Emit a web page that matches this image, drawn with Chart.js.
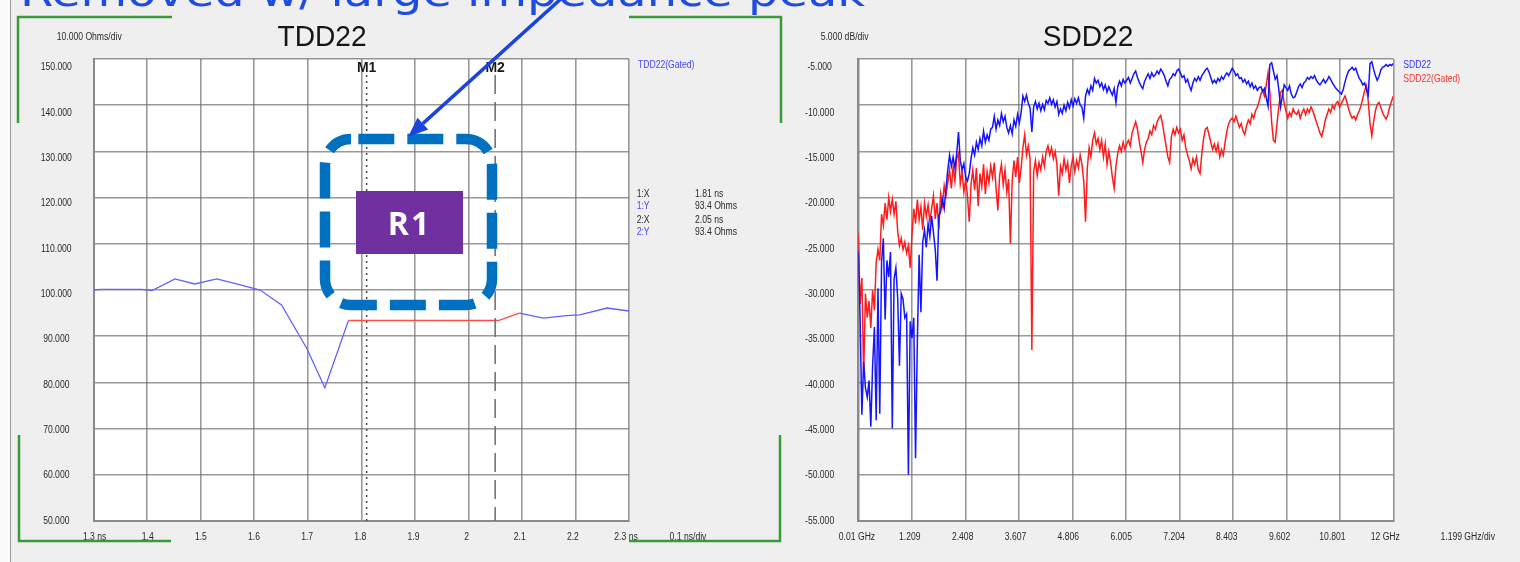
<!DOCTYPE html>
<html>
<head>
<meta charset="utf-8">
<script src="https://cdn.jsdelivr.net/npm/chart.js@4.4.1/dist/chart.umd.min.js"></script>
<style>
  html, body { margin: 0; padding: 0; }
  body { width: 1520px; height: 562px; overflow: hidden; background: #efefef; position: relative; }
  #edge { position: absolute; left: 0; top: 0; width: 10px; height: 562px; background: #fbfbfb; border-right: 1.5px solid #9a9a9a; }
  canvas { position: absolute; top: 0; }
  #tdd { left: 0; }
  #sdd { left: 780px; }
  #notes { position: absolute; left: 0; top: 0; }
</style>
</head>
<body>
<div id="edge"></div>
<canvas id="tdd" width="780" height="562"></canvas>
<canvas id="sdd" width="740" height="562"></canvas>
<svg id="notes" width="1520" height="562" xmlns="http://www.w3.org/2000/svg">
  <!-- headline (runs off the top edge) -->
  <text x="20" y="6" font-family="DejaVu Sans, Verdana, sans-serif" font-size="40" fill="#1f4be0"
        textLength="845" lengthAdjust="spacingAndGlyphs">Removed w/ large impedance peak</text>
  <!-- green frame corners around the TDR panel -->
  <g fill="none" stroke="#3a9a3a" stroke-width="2.5">
    <path d="M18 123 V17 H172"/>
    <path d="M629 17 H781 V123"/>
    <path d="M19 435 V541 H171"/>
    <path d="M629 541 H780 V435"/>
  </g>
  <!-- region callout -->
  <rect x="325" y="139" width="167" height="166" rx="26" fill="none" stroke="#0070c0"
        stroke-width="10.5" stroke-dasharray="36 13" stroke-dashoffset="41.7"/>
  <rect x="356" y="191" width="107" height="63" fill="#7030a0"/>
  <text x="409.5" y="235" text-anchor="middle" font-family="Open Sans, sans-serif" font-weight="700"
        font-size="32" fill="#ffffff" letter-spacing="2">R1</text>
  <!-- pointer -->
  <line x1="563" y1="-3" x2="422.8" y2="123.6" stroke="#1c44dc" stroke-width="3.5"/>
  <polygon points="408,137 428.2,129.5 417.5,117.7" fill="#1c44dc"/>
</svg>

<script>
// ---------------- TDD22 (gated) impedance trace ----------------
const tddTime = [1.300, 1.312, 1.390, 1.409, 1.452, 1.489, 1.530, 1.567, 1.611, 1.651,
                 1.698, 1.732, 1.776, 2.056, 2.095, 2.140, 2.183, 2.208, 2.259, 2.300];
const tddOhms = [99.9, 100.15, 100.15, 99.85, 102.4, 101.3, 102.4, 101.3, 100.0, 96.75,
                 87.4, 78.85, 93.4, 93.4, 95.0, 93.9, 94.45, 94.6, 96.1, 95.45];
const tddGate = [1.776, 2.095];                 // gated stretch drawn in red
const tddTimeTicks = [1.3, 1.4, 1.5, 1.6, 1.7, 1.8, 1.9, 2.0, 2.1, 2.2, 2.3];
const tddTimeLabels = ['1.3 ns', '1.4', '1.5', '1.6', '1.7', '1.8', '1.9', '2', '2.1', '2.2', '2.3 ns'];
const tddOhmTicks = [50, 60, 70, 80, 90, 100, 110, 120, 130, 140, 150];
const markerNames = ['M1', 'M2'];
const markerTimes = [1.81, 2.05];
const markerOhms = [93.4, 93.4];

// ---------------- SDD22 return loss, raw and gated (dB) ----------------
const sddStart = 0.01, sddStop = 12;
const sdd22 = [
  -25.8, -33.0, -43.5, -37.8, -40.6, -41.6, -39.8, -44.8, -38.2, -34.0, -44.1, -29.8, -43.4, -27.0, -24.4, -33.2, -26.8, -28.6, -25.9, -45.0, -28.8, -27.6, -30.8, -38.2, -30.4,
  -31.0, -33.0, -32.6, -50.0, -33.4, -35.2, -33.0, -48.2, -35.6, -26.2, -32.4, -24.8, -23.5, -25.4, -22.8, -24.2, -22.0, -23.8, -25.6, -29.0, -22.0, -21.5, -20.2, -21.2, -19.0,
  -17.0, -15.4, -16.6, -15.6, -16.8, -15.2, -12.9, -16.0, -17.0, -16.3, -17.8, -18.2, -17.4, -15.8, -14.6, -15.4, -14.0, -14.8, -13.6, -14.4, -12.8, -14.0, -13.2, -13.8, -12.6,
  -12.4, -11.2, -12.6, -11.6, -12.2, -10.9, -11.8, -11.2, -12.4, -13.0, -12.2, -13.1, -11.6, -12.3, -11.0, -11.9, -10.8, -9.0, -9.6, -8.9, -9.8, -10.3, -12.9, -10.2, -9.6,
  -10.4, -9.8, -10.6, -9.9, -10.5, -9.5, -9.8, -9.2, -9.9, -9.4, -10.2, -9.6, -11.0, -10.4, -10.9, -10.0, -10.6, -9.7, -10.3, -9.4, -10.1, -9.3, -9.8, -9.2, -10.0,
  -10.2, -11.4, -9.0, -8.3, -8.8, -7.9, -8.4, -7.1, -7.6, -7.3, -8.0, -7.6, -8.3, -7.8, -8.6, -8.0, -8.5, -8.9, -8.2, -9.7, -8.0, -7.4, -7.9, -7.2, -7.6,
  -7.3, -7.0, -7.6, -7.1, -6.6, -6.3, -7.0, -7.5, -7.9, -8.2, -7.4, -7.0, -6.6, -7.1, -6.5, -6.9, -6.7, -6.3, -6.6, -6.1, -6.4, -6.8, -7.4, -7.9, -7.2,
  -7.0, -6.6, -6.8, -6.3, -6.1, -6.5, -7.0, -6.8, -7.5, -7.2, -7.9, -8.4, -7.6, -7.1, -7.4, -6.9, -7.3, -6.8, -6.5, -6.2, -6.0, -6.4, -7.0, -7.6, -7.3,
  -7.6, -7.1, -7.4, -6.9, -7.2, -6.8, -6.5, -6.8, -6.4, -6.0, -6.3, -6.8, -6.6, -7.1, -7.0, -7.5, -7.2, -7.7, -7.4, -8.0, -7.6, -8.2, -7.9, -8.4, -8.1,
  -8.0, -8.5, -8.2, -9.2, -10.1, -5.6, -5.4, -6.3, -7.2, -6.8, -8.3, -10.2, -9.0, -7.8, -8.1, -8.4, -7.9, -8.8, -9.2, -9.1, -8.6, -8.0, -7.7, -8.1, -7.6,
  -7.4, -7.0, -7.2, -6.9, -7.1, -6.8, -7.3, -7.6, -7.8, -7.5, -7.2, -7.6, -7.3, -6.9, -7.2, -7.6, -7.9, -8.2, -8.4, -8.6, -8.8, -8.3, -7.5, -6.8, -6.3,
  -6.1, -5.9, -6.2, -6.0, -6.6, -7.1, -7.4, -7.8, -7.6, -8.3, -8.9, -5.5, -5.3, -6.1, -6.8, -7.3, -6.9, -6.2, -5.9, -5.8, -5.6, -5.8, -5.6, -5.7, -5.5
];
const sdd22Gated = [
  -23.8, -31.5, -28.7, -39.2, -30.4, -33.0, -31.2, -34.1, -30.0, -32.2, -27.0, -25.6, -26.8, -21.8, -23.0, -20.6, -22.4, -20.0, -21.5, -20.2, -21.8, -20.4, -23.6, -25.2, -24.4,
  -25.6, -24.8, -26.0, -25.2, -27.6, -24.0, -21.2, -22.8, -20.2, -22.4, -21.0, -23.5, -20.6, -22.0, -20.8, -22.6, -21.2, -19.8, -22.3, -20.6, -23.4, -19.6, -20.8, -18.7, -19.8,
  -18.4, -17.0, -19.0, -16.6, -18.2, -15.8, -15.2, -18.5, -17.2, -19.4, -18.0, -19.8, -22.6, -18.6, -17.0, -19.2, -16.8, -20.9, -17.4, -18.8, -16.4, -19.6, -17.2, -18.4, -16.6,
  -17.8, -16.2, -19.0, -21.4, -17.6, -16.4, -18.6, -17.0, -19.4, -18.0, -25.0, -18.2, -16.0, -17.8, -15.6, -18.4, -16.8, -14.6, -13.2, -15.4, -14.4, -15.8, -36.5, -17.2, -16.0,
  -17.6, -16.2, -17.0, -15.6, -16.6, -15.0, -14.4, -15.4, -14.6, -15.8, -15.0, -16.4, -19.8, -16.6, -17.4, -15.8, -17.0, -16.2, -18.4, -16.6, -15.6, -17.2, -16.0, -16.8, -15.4,
  -16.4, -18.2, -22.6, -16.8, -14.6, -15.6, -13.8, -13.0, -14.2, -13.6, -14.8, -13.8, -15.6, -14.2, -16.4, -15.0, -16.2, -17.8, -19.0, -16.6, -15.2, -14.4, -15.0, -14.0, -14.8,
  -14.2, -13.8, -14.4, -13.0, -12.4, -11.8, -12.6, -13.9, -15.0, -16.2, -14.8, -14.0, -13.6, -12.8, -13.2, -12.2, -12.6, -11.8, -11.4, -11.1, -12.0, -13.2, -14.4, -15.6, -16.2,
  -13.4, -12.6, -13.2, -12.4, -13.0, -12.6, -13.8, -13.2, -14.6, -15.4, -16.0, -16.9, -15.8, -16.4, -15.6, -17.0, -17.4, -15.2, -13.6, -12.6, -12.4, -13.2, -14.0, -14.8, -14.2,
  -15.0, -14.2, -15.6, -14.8, -15.4, -14.0, -12.8, -12.0, -11.6, -11.4, -11.8, -11.2, -11.8, -12.4, -12.0, -12.8, -13.2, -12.2, -11.6, -12.0, -11.0, -11.4, -10.6, -10.2, -9.6,
  -8.8, -8.4, -9.0, -7.8, -6.5, -8.6, -11.8, -13.8, -14.0, -12.0, -10.2, -8.6, -8.4, -9.8, -10.6, -11.4, -10.8, -11.2, -10.4, -10.8, -11.0, -10.6, -11.4, -10.8, -10.4,
  -11.0, -10.4, -10.8, -10.2, -10.6, -11.2, -11.8, -12.4, -13.0, -13.4, -12.6, -11.6, -11.0, -10.4, -10.8, -10.0, -10.4, -9.8, -9.6, -10.2, -9.8, -9.4, -9.0, -9.6, -10.4,
  -11.0, -11.4, -11.2, -11.6, -11.0, -10.6, -10.0, -9.2, -8.4, -7.9, -9.6, -12.0, -13.3, -11.8, -10.6, -9.9, -9.7, -10.2, -10.8, -11.2, -11.5, -11.0, -10.2, -9.6, -9.0
];
const sddFreqTicks = [0.01, 1.209, 2.408, 3.607, 4.806, 6.005, 7.204, 8.403, 9.602, 10.801, 12];
const sddFreqLabels = ['0.01 GHz', '1.209', '2.408', '3.607', '4.806', '6.005', '7.204', '8.403', '9.602', '10.801', '12 GHz'];
const sddDbTicks = [-55, -50, -45, -40, -35, -30, -25, -20, -15, -10, -5];

// sweep points are evenly spaced between start and stop
const sddFreq = sdd22.map((_, i) => sddStart + i * (sddStop - sddStart) / (sdd22.length - 1));

// ---------------- drawing helpers ----------------
const FONT = '"Liberation Sans", Arial, sans-serif';
function label(ctx, str, x, y, opt = {}) {
  ctx.save();
  ctx.font = (opt.bold ? 'bold ' : '') + (opt.size || 10) + 'px ' + FONT;
  ctx.fillStyle = opt.color || '#2a2a2a';
  ctx.textBaseline = 'middle';
  ctx.textAlign = opt.align || 'left';
  ctx.translate(x, y);
  ctx.scale(opt.squeeze == null ? 0.86 : opt.squeeze, 1);
  ctx.fillText(str, 0, 0);
  ctx.restore();
}

// instrument-style panel: white plot field, tick captions, header and annotations
const panel = {
  id: 'panel',
  beforeDraw(chart) {
    const { ctx, chartArea: a } = chart;
    ctx.save();
    ctx.fillStyle = '#ffffff';
    ctx.fillRect(a.left, a.top, a.right - a.left, a.bottom - a.top);
    ctx.restore();
  },
  afterDraw(chart, args, o) {
    const ctx = chart.ctx, xs = chart.scales.x, ys = chart.scales.y;
    // value captions: spread slightly tighter than the grid, centred on a column
    const n = ys.ticks.length - 1;
    ys.ticks.forEach((t, i) => {
      const fromTop = n - i;
      const y = ys.getPixelForValue(t.value) + o.yShift * (1 - fromTop / n);
      label(ctx, t.value.toFixed(3), o.yLabelX, y, { align: 'center' });
    });
    const m = xs.ticks.length - 1;
    xs.ticks.forEach((t, i) => {
      const x = xs.getPixelForValue(t.value) + o.xShift[0] + (o.xShift[1] - o.xShift[0]) * i / m;
      label(ctx, o.xLabels[i], x, o.xLabelY, { align: 'center' });
    });
    label(ctx, o.yUnit.text, o.yUnit.x, o.yUnit.y);
    label(ctx, o.xUnit.text, o.xUnit.x, o.xUnit.y, { align: 'center' });
    label(ctx, o.title.text, o.title.x, o.title.y, { size: 29, align: 'center', color: '#161616', squeeze: 0.97 });
    (o.legend || []).forEach(l => label(ctx, l.text, l.x, l.y, { color: l.color }));

    // markers
    (o.markers || []).forEach((mk, i) => {
      const x = xs.getPixelForValue(mk.t);
      ctx.save();
      ctx.strokeStyle = mk.color;
      ctx.lineWidth = 1.5;
      ctx.setLineDash(mk.dash);
      ctx.beginPath();
      ctx.moveTo(x, o.markerTop);
      ctx.lineTo(x, chart.chartArea.bottom);
      ctx.stroke();
      ctx.restore();
      label(ctx, mk.name, x, o.markerLabelY, { bold: true, size: 14, align: 'center', color: '#1a1a1a', squeeze: 1 });
    });
    (o.readout || []).forEach(r => {
      label(ctx, r.key, o.readoutX[0], r.y, { color: r.color });
      label(ctx, r.val, o.readoutX[1], r.y);
    });
  }
};

const GRID = 'rgba(110,110,110,0.7)';
function axes(xMin, xMax, xTicks, yMin, yMax, yTicks) {
  const common = (ticks) => ({
    type: 'linear',
    afterBuildTicks: s => { s.ticks = ticks.map(v => ({ value: v })); },
    ticks: { display: false },
    grid: { color: GRID, lineWidth: 1.6, drawTicks: false },
    border: { color: '#8a8a8a', width: 2 }
  });
  return {
    x: Object.assign(common(xTicks), { min: xMin, max: xMax }),
    y: Object.assign(common(yTicks), { min: yMin, max: yMax })
  };
}

// ---------------- TDD22 chart ----------------
const BLUE_T = '#6262ff', RED_T = '#ff4a4a';
new Chart(document.getElementById('tdd'), {
  type: 'line',
  data: {
    datasets: [{
      label: 'TDD22(Gated)',
      data: tddTime.map((t, i) => ({ x: t, y: tddOhms[i] })),
      borderColor: BLUE_T,
      borderWidth: 1.3,
      pointRadius: 0,
      segment: {
        borderColor: c => (c.p0.parsed.x >= tddGate[0] - 1e-9 && c.p1.parsed.x <= tddGate[1] + 1e-9) ? RED_T : BLUE_T
      }
    }]
  },
  options: {
    responsive: false, animation: false, events: [],
    layout: { padding: { left: 93.6, top: 59, right: 151, bottom: 41 } },
    scales: axes(1.3, 2.3, tddTimeTicks, 50, 150, tddOhmTicks),
    plugins: {
      legend: { display: false }, tooltip: { enabled: false },
      panel: {
        yLabelX: 56.3, yShift: 8.5,
        xLabels: tddTimeLabels, xLabelY: 537.3, xShift: [1, -3],
        yUnit: { text: '10.000 Ohms/div', x: 56.7, y: 37.3 },
        xUnit: { text: '0.1 ns/div', x: 688, y: 537.3 },
        title: { text: 'TDD22', x: 322, y: 38 },
        legend: [{ text: 'TDD22(Gated)', x: 638, y: 65, color: '#4646ff' }],
        markerTop: 75, markerLabelY: 68.3,
        markers: [
          { name: markerNames[0], t: markerTimes[0], color: '#4a4a4a', dash: [2, 4] },
          { name: markerNames[1], t: markerTimes[1], color: '#6a6a6a', dash: [19, 8] }
        ],
        readoutX: [636.7, 695],
        readout: [
          { key: '1:X', val: markerTimes[0].toFixed(2) + ' ns', y: 194, color: '#2a2a2a' },
          { key: '1:Y', val: markerOhms[0].toFixed(1) + ' Ohms', y: 206.5, color: '#4646ff' },
          { key: '2:X', val: markerTimes[1].toFixed(2) + ' ns', y: 220, color: '#2a2a2a' },
          { key: '2:Y', val: markerOhms[1].toFixed(1) + ' Ohms', y: 232.7, color: '#4646ff' }
        ]
      }
    }
  },
  plugins: [panel]
});

// ---------------- SDD22 chart ----------------
new Chart(document.getElementById('sdd'), {
  type: 'line',
  data: {
    datasets: [
      {
        label: 'SDD22',
        data: sddFreq.map((f, i) => ({ x: f, y: sdd22[i] })),
        borderColor: '#1414ff', borderWidth: 1.5, pointRadius: 0, order: 0
      },
      {
        label: 'SDD22(Gated)',
        data: sddFreq.map((f, i) => ({ x: f, y: sdd22Gated[i] })),
        borderColor: '#ff1c1c', borderWidth: 1.5, pointRadius: 0, order: 1
      }
    ]
  },
  options: {
    responsive: false, animation: false, events: [],
    layout: { padding: { left: 78.3, top: 59, right: 126.7, bottom: 41 } },
    scales: axes(sddStart, sddStop, sddFreqTicks, -55, -5, sddDbTicks),
    plugins: {
      legend: { display: false }, tooltip: { enabled: false },
      panel: {
        yLabelX: 39.6, yShift: 8.5,
        xLabels: sddFreqLabels, xLabelY: 537.3, xShift: [-1.3, -8],
        yUnit: { text: '5.000 dB/div', x: 40.7, y: 37.3 },
        xUnit: { text: '1.199 GHz/div', x: 687.7, y: 537.3 },
        title: { text: 'SDD22', x: 308, y: 38 },
        legend: [
          { text: 'SDD22', x: 623.3, y: 65, color: '#3434ff' },
          { text: 'SDD22(Gated)', x: 623.3, y: 79.3, color: '#ff3434' }
        ]
      }
    }
  },
  plugins: [panel]
});
</script>
</body>
</html>
